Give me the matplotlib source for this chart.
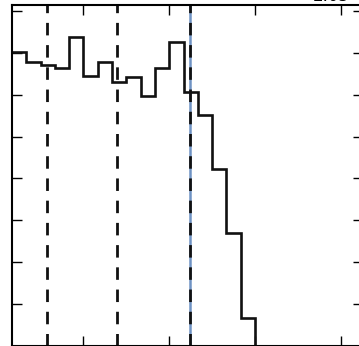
import numpy as np
import matplotlib.pyplot as plt

# histogram counts per bin (bin units, y in tick units)
counts = [7.02, 6.78, 6.71, 6.63, 7.37, 6.44, 6.78, 6.30, 6.42,
          5.97, 6.63, 7.26, 6.06, 5.51, 4.22, 2.70, 0.67]
bin_edges = np.arange(len(counts) + 1)
dashed_x = [2.45, 7.34, 12.45]
blue_x = 12.45
x_ticks = [5, 11, 17, 23]
y_ticks = np.arange(0, 9)
top_label = "2.05"

fig = plt.figure(figsize=(3.59, 3.46), dpi=100)
ax = fig.add_axes([12 / 359, 0.0, 351 / 359, 341 / 346])

# step outline of histogram, dropping to zero at the end
xs = np.concatenate([[bin_edges[0]], np.repeat(bin_edges[1:-1], 2), [bin_edges[-1], bin_edges[-1]]])
ys = np.concatenate([np.repeat(counts, 2), [0]])
ax.plot(xs, ys, color="#111111", lw=1.9, solid_joinstyle="miter")

ax.axvline(blue_x, color="#6f93c4", lw=1.8, zorder=1)
for xv in dashed_x:
    ax.axvline(xv, color="#111111", lw=2.0, ls=(0, (4.5, 3.5)), zorder=2)

ax.set_xlim(0, 24.55)
ax.set_ylim(0, 8.14)
ax.set_xticks(x_ticks)
ax.set_yticks(y_ticks)
ax.set_xticklabels([])
ax.set_yticklabels([])
ax.tick_params(direction="in", length=7, width=1, top=True, right=True)
for t in ax.yaxis.get_major_ticks():
    t.tick2line.set_color("#b0b0b0")
for sp in ax.spines.values():
    sp.set_linewidth(1.5)

ax.text(0.91, 1.0, top_label, transform=ax.transAxes, ha="center", va="bottom",
        fontsize=12, color="black", clip_on=False)

fig.savefig("out.png", dpi=100)
